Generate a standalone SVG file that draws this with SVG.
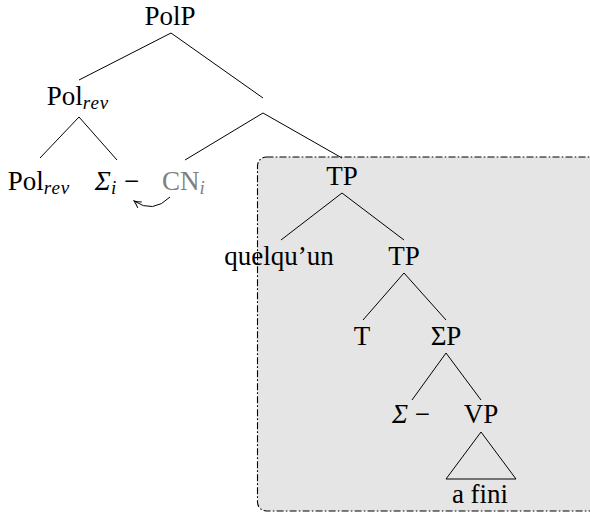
<svg xmlns="http://www.w3.org/2000/svg" width="590" height="513" viewBox="0 0 590 513">
<style>
text{font-family:'Liberation Serif','Times New Roman',serif;font-size:27px;fill:#000;text-anchor:middle}
.sub{font-size:19px;font-style:italic;letter-spacing:1px}
.it{font-style:italic}
.gray{fill:#808080}
line,polygon.tri{stroke:#000;stroke-width:1;fill:none}
</style>
<defs>
<marker id="ah" markerWidth="10" markerHeight="10" refX="8" refY="5" orient="auto" markerUnits="userSpaceOnUse">
<path d="M1,1.5 Q5,4 8,5 Q5,6 1,8.5" fill="none" stroke="#000" stroke-width="1"/>
</marker>
</defs>
<rect x="257.5" y="157" width="345" height="354" rx="9" ry="9" fill="#e5e5e5" stroke="#000" stroke-width="1.1" stroke-dasharray="7,2.2,1.6,2.2"/>
<g id="connectors">
<line x1="171" y1="33" x2="79" y2="80"/>
<line x1="171" y1="33" x2="263" y2="98"/>
<line x1="79" y1="117" x2="40" y2="158"/>
<line x1="79" y1="117" x2="117" y2="160"/>
<line x1="263" y1="113" x2="185" y2="160"/>
<line x1="263" y1="113" x2="342" y2="158"/>
<line x1="342" y1="193" x2="281" y2="240"/>
<line x1="342" y1="193" x2="404" y2="240"/>
<line x1="404" y1="273" x2="363" y2="320"/>
<line x1="404" y1="273" x2="446" y2="320"/>
<line x1="446" y1="353" x2="412" y2="400"/>
<line x1="446" y1="353" x2="481" y2="400"/>
<polygon class="tri" points="481,432 446,479 516,479"/>
<path d="M170,197 Q153,214 134,201" fill="none" stroke="#000" stroke-width="1" marker-end="url(#ah)"/>
</g>
<g id="PolP"><text x="170" y="25">PolP</text></g>
<g id="Polrev1"><text x="78" y="105">Pol<tspan class="sub" dy="4">rev</tspan></text></g>
<g id="Polrev2"><text x="39" y="190">Pol<tspan class="sub" dy="4">rev</tspan></text></g>
<g id="Sigma_i"><text x="117" y="190"><tspan class="it">Σ</tspan><tspan class="sub" dy="4">i</tspan><tspan dy="-4"> −</tspan></text></g>
<g id="CN_i"><text class="gray" x="184" y="190">CN<tspan class="sub gray" dy="4">i</tspan></text></g>
<g id="TP1"><text x="342" y="185">TP</text></g>
<g id="quelquun"><text x="279" y="265">quelqu’un</text></g>
<g id="TP2"><text x="404" y="265">TP</text></g>
<g id="T"><text x="362" y="345">T</text></g>
<g id="SigmaP"><text x="446" y="345">ΣP</text></g>
<g id="SigmaMinus"><text x="411" y="423"><tspan class="it">Σ</tspan> −</text></g>
<g id="VP"><text x="481" y="423">VP</text></g>
<g id="afini"><text x="480" y="503">a fini</text></g>
</svg>
